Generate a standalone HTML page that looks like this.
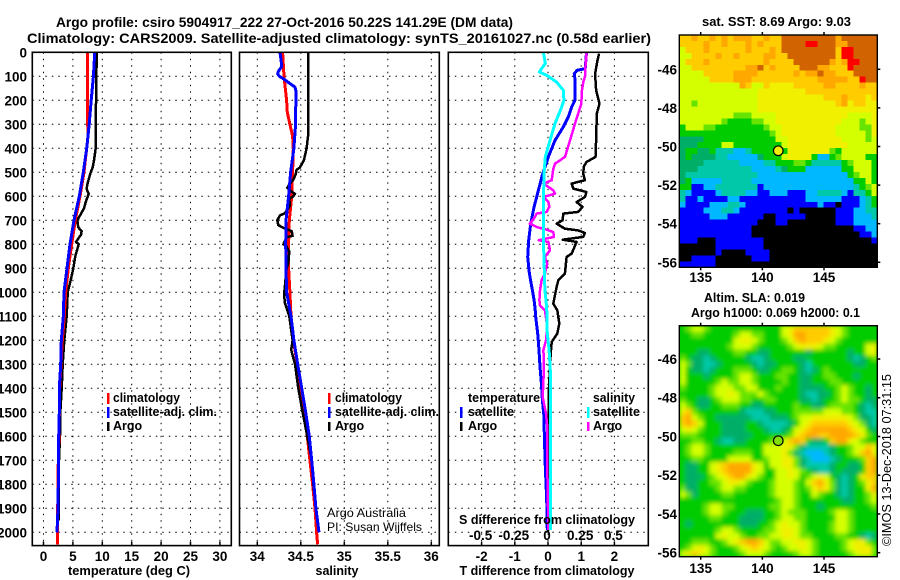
<!DOCTYPE html>
<html lang="en">
<head>
<meta charset="utf-8">
<title>Argo profile chart</title>
<style>
html,body{margin:0;padding:0;background:#fff;}
svg{display:block;}
text{font-family:"Liberation Sans",sans-serif;fill:#000;}
.b{font-weight:bold;}
.t{font-size:14px;font-weight:bold;}
.k{font-size:13.5px;font-weight:bold;}
.l{font-size:12.5px;font-weight:bold;}
</style>
</head>
<body>
<svg id="chart" xmlns="http://www.w3.org/2000/svg" width="900" height="580" viewBox="0 0 900 580">
<defs>
<clipPath id="clip-sla"><rect x="679.5" y="325.7" width="198" height="231"/></clipPath>
<filter id="smooth" x="-5%" y="-5%" width="110%" height="110%"><feGaussianBlur stdDeviation="2"/></filter>
</defs>
<rect x="0" y="0" width="900" height="580" fill="#fff"/>
<text class="t" x="56" y="27" textLength="457" lengthAdjust="spacingAndGlyphs">Argo profile: csiro 5904917_222 27-Oct-2016 50.22S 141.29E (DM data)</text>
<text class="t" x="27" y="43" textLength="624" lengthAdjust="spacingAndGlyphs">Climatology: CARS2009. Satellite-adjusted climatology: synTS_20161027.nc (0.58d earlier)</text>
<g id="layer-grid"></g>
<g id="layer-series"></g>
<g id="layer-frames"></g>
<g id="layer-ticks"></g>

<text class="b" x="129" y="575" font-size="13" text-anchor="middle" textLength="122" lengthAdjust="spacingAndGlyphs">temperature (deg C)</text>
<text class="b" x="337" y="575" font-size="13" text-anchor="middle" textLength="43" lengthAdjust="spacingAndGlyphs">salinity</text>
<text class="b" x="547" y="575" font-size="13" text-anchor="middle" textLength="175" lengthAdjust="spacingAndGlyphs">T difference from climatology</text>
<text class="b" x="547" y="524" font-size="13" text-anchor="middle" textLength="176" lengthAdjust="spacingAndGlyphs">S difference from climatology</text>

<g>
<rect x="107" y="393" width="2.5" height="11" fill="#f00"/>
<rect x="107" y="407" width="2.5" height="11" fill="#00f"/>
<rect x="107" y="422" width="2.5" height="9" fill="#000"/>
<text class="l" x="113" y="402" textLength="67" lengthAdjust="spacingAndGlyphs">climatology</text>
<text class="l" x="113" y="416" textLength="104" lengthAdjust="spacingAndGlyphs">satellite-adj. clim.</text>
<text class="l" x="113" y="430">Argo</text>
</g>
<g>
<rect x="328" y="393" width="2.5" height="11" fill="#f00"/>
<rect x="328" y="407" width="2.5" height="11" fill="#00f"/>
<rect x="328" y="422" width="2.5" height="9" fill="#000"/>
<text class="l" x="335" y="402" textLength="67" lengthAdjust="spacingAndGlyphs">climatology</text>
<text class="l" x="335" y="416" textLength="104" lengthAdjust="spacingAndGlyphs">satellite-adj. clim.</text>
<text class="l" x="335" y="430">Argo</text>
<text x="327" y="517" font-size="12" fill="#222" textLength="79" lengthAdjust="spacingAndGlyphs">Argo Australia</text>
<text x="327" y="531" font-size="12" fill="#222" textLength="95" lengthAdjust="spacingAndGlyphs">PI: Susan Wijffels</text>
</g>
<g>
<rect x="460" y="407" width="2.5" height="11" fill="#00f"/>
<rect x="460" y="422" width="2.5" height="9" fill="#000"/>
<rect x="587" y="407" width="2.5" height="11" fill="#0ff"/>
<rect x="587" y="422" width="2.5" height="9" fill="#f0f"/>
<text class="l" x="468" y="402" textLength="72" lengthAdjust="spacingAndGlyphs">temperature</text>
<text class="l" x="468" y="416" textLength="46" lengthAdjust="spacingAndGlyphs">satellite</text>
<text class="l" x="468" y="430">Argo</text>
<text class="l" x="593" y="402" textLength="42" lengthAdjust="spacingAndGlyphs">salinity</text>
<text class="l" x="593" y="416" textLength="47" lengthAdjust="spacingAndGlyphs">satellite</text>
<text class="l" x="593" y="430">Argo</text>
</g>

<g id="layer-sst" shape-rendering="crispEdges"></g>
<g clip-path="url(#clip-sla)">
<rect x="679.5" y="325.7" width="198" height="231" fill="#00cc00"/>
<g id="layer-sla" filter="url(#smooth)" shape-rendering="crispEdges"></g>
</g>
<g id="layer-map-axes"></g>

<text class="b" x="776.5" y="26" font-size="13" text-anchor="middle" textLength="149" lengthAdjust="spacingAndGlyphs">sat. SST: 8.69 Argo: 9.03</text>
<text class="b" x="754.5" y="302" font-size="13" text-anchor="middle" textLength="101" lengthAdjust="spacingAndGlyphs">Altim. SLA: 0.019</text>
<text class="b" x="775.5" y="317" font-size="13" text-anchor="middle" textLength="169" lengthAdjust="spacingAndGlyphs">Argo h1000: 0.069 h2000: 0.1</text>
<text x="891" y="546" font-size="12.5" textLength="172" lengthAdjust="spacingAndGlyphs" transform="rotate(-90 891 546)">©IMOS 13-Dec-2018 07:31:15</text>
</svg>

<script>
// ---------- axis tick values ----------
const depthTicks = [0,100,200,300,400,500,600,700,800,900,1000,1100,1200,1300,1400,1500,1600,1700,1800,1900,2000];
const tempTicks = [0,5,10,15,20,25,30];
const salinityTicks = [34,34.5,35,35.5,36];
const salinityTickLabels = ['34','34.5','35','35.5','36'];
const tDiffTicks = [-2,-1,0,1,2];
const sDiffTicks = [-0.5,-0.25,0,0.25,0.5];
const sDiffTickLabels = ['-0.5','-0.25','0','0.25','0.5'];
const lonTicks = [135,140,145];
const latTicks = [-46,-48,-50,-52,-54,-56];
const profileLon = [141.29];
const profileLat = [-50.22];

// ---------- temperature panel ----------
const climTempDepth = [0,100,300,350,400,500,600,700,800,900,1000,1100,1200,1300,1400,1500,1600,1700,1800,1900,2000,2050];
const climTemp = [7.51,7.45,7.51,7.57,7.34,6.89,6.21,5.41,4.79,4.22,3.77,3.54,3.2,2.98,2.75,2.69,2.64,2.52,2.47,2.41,2.35,2.35];
const satTempDepth = [0,50,100,200,300,400,500,600,700,800,900,1000,1100,1200,1300,1400,1500,1600,1700,1800,1900,2000];
const satTemp = [8.7,8.6,8.48,8.12,7.78,7.34,6.77,6.09,5.19,4.51,4.0,3.49,3.37,3.03,2.92,2.69,2.69,2.58,2.52,2.52,2.47,2.3];
const argoTempDepth = [0,100,300,400,450,480,500,550,570,590,620,650,680,700,730,745,760,790,800,850,900,950,1000,1100,1200,1300,1400,1500,1600,1700,1800,1900,1950];
const argoTemp = [9.04,8.99,8.87,8.87,8.59,8.36,8.02,7.45,7.34,7.68,7.23,6.89,6.21,5.75,5.92,6.49,6.38,5.53,5.98,5.41,5.07,4.62,4.11,3.94,3.54,3.26,3.09,2.86,2.81,2.64,2.58,2.58,2.58];

// ---------- salinity panel ----------
const climSalDepth = [0,100,150,200,250,300,350,400,500,600,700,800,900,1000,1100,1200,1300,1400,1500,1600,1700,1800,1900,2000,2050];
const climSal = [34.291,34.307,34.322,34.337,34.345,34.375,34.406,34.414,34.406,34.395,34.368,34.36,34.36,34.375,34.387,34.414,34.46,34.502,34.54,34.575,34.605,34.636,34.663,34.682,34.693];
const satSalDepth = [0,30,60,80,90,100,110,130,145,160,300,400,500,600,700,800,900,1000,1100,1200,1300,1400,1500,1600,1700,1800,1900,2000];
const satSal = [34.26,34.272,34.28,34.241,34.234,34.253,34.3,34.375,34.433,34.444,34.44,34.421,34.383,34.36,34.33,34.326,34.33,34.337,34.387,34.421,34.464,34.51,34.556,34.598,34.625,34.651,34.674,34.709];
const argoSalDepth = [0,340,400,450,480,490,510,530,550,565,575,590,600,610,640,670,680,700,720,735,745,765,770,800,810,830,880,900,1000,1040,1100,1200,1240,1300,1400,1500,1600,1700,1800,1850];
const argoSal = [34.586,34.586,34.567,34.536,34.49,34.452,34.44,34.414,34.368,34.345,34.375,34.433,34.414,34.368,34.375,34.318,34.26,34.23,34.241,34.318,34.395,34.406,34.337,34.3,34.337,34.368,34.356,34.337,34.31,34.314,34.368,34.406,34.39,34.433,34.471,34.521,34.575,34.625,34.644,34.66];

// ---------- difference panel ----------
const argoTDiffDepth = [6,33,89,158,214,256,367,436,457,475,506,533,547,568,582,603,624,644,665,672,700,714,735,742,753,769,781,790,839,853,922,950,978,1047,1075,1130,1172,1207,1255,1311,1422,1600,2000];
const argoTDiff = [1.54,1.49,1.42,1.45,1.55,1.47,1.45,1.43,1.16,1.08,1.06,1.11,0.71,0.76,1.16,1.11,0.86,1.04,0.91,0.46,0.44,0.26,0.51,0.91,1.11,1.06,0.44,0.86,0.71,0.56,0.51,0.31,0.26,0.16,0.28,0.34,0.28,0.11,0.08,0.06,0.02,0.02,0];
const satTDiffDepth = [0,68,75,89,110,200,228,269,311,367,436,506,575,644,714,783,853,922,992,1033,1068,1102,1172,1241,1311,1380,1450,1519,1589,1727,1866,1991];
const satTDiff = [1.16,1.12,0.88,0.79,0.81,0.81,0.71,0.61,0.46,0.21,0.01,-0.16,-0.29,-0.42,-0.52,-0.58,-0.61,-0.56,-0.47,-0.42,-0.39,-0.37,-0.31,-0.27,-0.24,-0.2,-0.17,-0.12,-0.11,-0.08,-0.04,-0.02];
const satSDiffDepth = [0,47,68,82,96,124,158,200,228,297,367,436,506,644,783,992,1033,1068,1172,1241,1352,1991];
const satSDiff = [-0.035,-0.02,-0.048,-0.065,-0.01,0.065,0.115,0.12,0.103,0.053,0.015,-0.02,-0.03,-0.035,-0.035,-0.023,-0.015,-0.01,-0.005,0.008,0.02,0.02];
const argoSDiffDepth = [0,68,96,124,158,214,297,367,436,464,485,506,533,547,575,589,603,624,644,665,672,686,714,728,739,749,769,783,790,825,853,881,922,950,992,1033,1054,1075,1144,1200,1241,1311,1436,1505,1561,1727,1991];
const argoSDiff = [0.291,0.281,0.281,0.266,0.256,0.251,0.203,0.166,0.128,0.053,0.04,0.035,0.028,-0.035,0.04,0.053,-0.035,0.003,0.01,-0.01,-0.085,-0.098,-0.136,-0.085,-0.01,0.04,0.045,-0.07,0.003,0.015,-0.023,-0.005,-0.023,-0.048,-0.06,-0.065,-0.06,-0.023,-0.005,-0.015,-0.035,-0.03,-0.04,-0.015,-0.005,-0.005,0.003];

// ---------- SST map: one row per line, north to south; each letter is a colour class ----------
const sstRows = [
"ooOooOoOoOOOooOooDDDDDDDDDODDDDDD",
"ooooOooOoooOoOoooDDDDRRDDDOODDDDD",
"yoooOooooooOoooOoDDDDDDDDDoRRDDDD",
"yyooooOooOooooOOooDDDDDDDDoRRDDDD",
"yoooOoooooooooOooooDDDDDDOoORRDDD",
"yyoooooooooOODoOooooDDDOOoooRDDDD",
"yyyyoooooOOOOooooooOoOODOOoooDDDD",
"yyyyyooooOOOoooooooooooOOOOOooRDD",
"yyyyyyyyyyOoyyoYYYYoooooOOooooOoo",
"yyyyyyyyyyyyyYYYYYYYYoooooooooooo",
"yyyyyyyyyyyyyYYYYYYYYYYYoooOoooYo",
"yygyyyyyyyyyyYYYYYYYYYYYYYoOYooYY",
"yyyyyyyyyyyyyYYYYYYYYYYYYYYYYYYYY",
"yyyyyyyyygggyyyyYYYYYYYYYYYYyyyyY",
"yyyyyyygGGGGggyyYYYYYYYYYYYyyygyY",
"GyyyggGGGGGGGGgyyYYYYYYYYYyyyyggY",
"GGGGGGGGGGGGGGGgyYYYYYYYYYyyyyygY",
"ttttGGGGGGGGGGGGyyYYYYYYYYYyyyygy",
"tttGGGGyyGGGGGGGGyYYYYYYYYYYyyyyy",
"tGGttGTTTLLTGGGGGGYYYYYYYgGyyyyyy",
"tGttttTTLLLLLtGGGyYYYYGLLGgyyyyGG",
"ttttTTTTTTLLLLTTGGGggGTTTTTGgyyyG",
"tttTTTTTTTTTLLLLTtGGGLLLLLLGGyyyG",
"tTTTTTTTTTTTTLLLLLLLLLLLLLLLGgyyG",
"tGLLLLLTTTTTLLLLLLLLLLLLLLLLLGGyG",
"GGBBLLTTTTTTTBLLLLLLLLLLLLLLLTGgy",
"TLBBBBLTTTTLLBBLLLBBBLLTTTTLBTTGy",
"TBBLBBBBLLBBBBBBBBBBBLLLLLLBBBLTG",
"LBBBBLLLTTLBBBBBBBBBBBBLBBKBBBLTG",
"BBBBLLLTTLBBBBBBBBKBKKKKKKBBBLLTT",
"BBBBBLLLBBBBBBKKBBBBBKKKKKBBBLLLT",
"BBBBBBBBBBBBBKKKBBKKKKKKKKBBBLLLL",
"BBBBBBBBBBBBKKKKKKKKKKKKKKKKKBBLL",
"BBBBBBBBBBBBKKKKKKKKKKKKKKKKKKBBL",
"BBBKKKBBBBBBBBKKKKKKKKKKKKKKKKKKB",
"KKKKKKBBBBBBBBKKKKKKKKKKKKKKKKKKK",
"KKKKKKBKKKKBBBBKKKKKKKKKKKKKKKKKK",
"KKBBBBKKKKKKBBBKKKKKKKKKKKKKKKKKK",
"BBBBBBKKKKKKKKKKKKKKKKKKKKKKKKKKK"
];

// ---------- SLA map: one row per line, north to south ----------
const slaRows = [
"GgyygGGGGGGGGGGGGyYooooooYygGGGGG",
"GGggGGGGGgyyggGGGyYOOooooYygGGGGG",
"GGGGGGGGGyYYygGGGgyoOoooYygGGGGGG",
"GGGGGGGGgyyygGGGGGgyYYYyggGGGGGyY",
"GGGttGGGGggGGttGGGGGGtGGGGGGtGGyY",
"gGttTtGGGGGtTTtGGGGttGGGGGGGtTtGg",
"ygttTTtGGGGGtTttGGGGtTGGGGGGGttGG",
"yGttTtGGGgggGttGGggGtTtGgGGGGGGGG",
"yGGGtGGGGgyygGGGggGGttGGggGGGtGGG",
"yGGGGGgyggyygGGGGgGGttGGGggGGGGGG",
"gGGGGgyyyggyyGGGgGGGttttGGgygGGtG",
"GGGGGgyyYygggygGGGGGtTTttGgygGGtG",
"gGGttGgyyyggGGggGGGGttTtGGgyggGtt",
"ygGttGGgggGGttGGGGGgGGttGggggGtTt",
"YogGGGGGGGtTTTttGGGgggggyyyggGtTT",
"oOygGGttttttTTTtttGgyyYYYYYYygttT",
"oOoyGGGttttGGtTTTTtGyYooooooYygtT",
"yYygGGGttttGGGtTTtGyYoOOOOOOoYyGt",
"gggGGGGtttttGGGGGGgYoOOooOOOOoYgG",
"GGggGGtTTttGGGGggyoOoGttGoOOYygGG",
"GgyygGGGGGGGGGyyyYYgtTTTTtGGgyyoY",
"GgyygGGGGgggGGyyyYgtTLLLTtGGgyoOY",
"GGggGGGGyyyyGGgyyYYgtTLLLTtGGGgoO",
"GttGGyYoOOOOYyGyyYYgtTTTTtGGttGoO",
"GttGGyYoOOOOYyGGyyYygGtTTtGtttGoO",
"GtttGgyYoOOYygGGyyYyGgyYyGtTtGYoo",
"GttGGggyYYygGGGgyyygGyoOYgtTtGgYo",
"gttGGGgyyggGGGGgyyygGgYoYgtTtGGYO",
"ygtGGGGggGGGGGGgyyygGGygGGtTtGGgY",
"GGGGGGGGGGGGGGGGgyygGGGGGGGttGGgy",
"GGGGgyyggGGGGGGggyygGGGtGGGGGGGGg",
"GGGGgyygGGGtttGGgygggGGGGgyygGGGG",
"GGGGGggGGGttttGGgyyggGGGGGyygGGGG",
"GtGGGGGGGGtttGGgyYyygGGGGgyygGGGG",
"GGGGGGgyygGGGGggyYYygGGGGgyygGGGG",
"GGGGGGyYyygGGggyyYYyggGGGGggGGtTt",
"GGgggGGgyYoOOoyggyyYYygGGGGgyYYgG",
"GgyYygGGGgyYoYygGgyyYygGGGGgyYYYg",
"yYoYygGGGGgyyygGGGGgyygGGGGGgyYYg"
];

const classColors = {K:'#000000',B:'#0000ff',L:'#00b8ff',T:'#00c8a8',t:'#00ae68',G:'#00cc00',g:'#66e400',y:'#d4ff00',Y:'#f0f000',o:'#ffcc00',O:'#ffa800',D:'#d26400',R:'#ff0000'};

// ---------- scales ----------
const NS = 'http://www.w3.org/2000/svg';
const PANEL_TOP = 52.3, PANEL_BOTTOM = 545.6;
function yDepth(d){ return 52.3 + 0.24 * d; }
function xTemp(t){ return 43.5 + 5.88 * t; }
function xSal(s){ return 257.3 + 87 * (s - 34); }
function xTDiff(t){ return 548 + 33.2 * t; }
function xSDiff(s){ return 548 + 132.8 * s; }
function xLon(l){ return 700.7 + 12.33 * (l - 135); }
function ySstLat(l){ return 69.3 + 19.3 * (-46 - l); }
function ySlaLat(l){ return 359 + 19.37 * (-46 - l); }

const gridLayer = document.getElementById('layer-grid');
const seriesLayer = document.getElementById('layer-series');
const frameLayer = document.getElementById('layer-frames');
const tickLayer = document.getElementById('layer-ticks');
const axesLayer = document.getElementById('layer-map-axes');

function drawLine(parent, name, x1, y1, x2, y2, dash){
  const el = document.createElementNS(NS, 'line');
  
  
  el.setAttribute('x1', x1);
  el.setAttribute('y1', y1);
  el.setAttribute('x2', x2);
  el.setAttribute('y2', y2);
  el.setAttribute('stroke', '#000');
  el.setAttribute('stroke-width', dash ? 1 : 1.5);
  if (dash) el.setAttribute('stroke-dasharray', dash);
  parent.appendChild(el);
}
function drawLabel(parent, name, x, y, str, anchor){
  const el = document.createElementNS(NS, 'text');
  
  
  el.setAttribute('class', 'k');
  el.setAttribute('x', x);
  el.setAttribute('y', y);
  el.setAttribute('text-anchor', anchor);
  el.textContent = str;
  parent.appendChild(el);
}
function drawFrame(name, x, y, w, h){
  const el = document.createElementNS(NS, 'rect');
  
  
  el.setAttribute('x', x);
  el.setAttribute('y', y);
  el.setAttribute('width', w);
  el.setAttribute('height', h);
  el.setAttribute('fill', 'none');
  el.setAttribute('stroke', '#000');
  el.setAttribute('stroke-width', 1.6);
  frameLayer.appendChild(el);
}
function drawSeries(name, colour, width, values, depths, xFn){
  const el = document.createElementNS(NS, 'polyline');
  
  
  el.setAttribute('fill', 'none');
  el.setAttribute('stroke', colour);
  el.setAttribute('stroke-width', width);
  el.setAttribute('stroke-linejoin', 'round');
  el.setAttribute('shape-rendering', 'crispEdges');
  const pts = [];
  for (let i = 0; i < values.length; i++) {
    pts.push(xFn(values[i]).toFixed(1) + ',' + yDepth(depths[i]).toFixed(1));
  }
  el.setAttribute('points', pts.join(' '));
  seriesLayer.appendChild(el);
}
function panelGrid(prefix, x0, x1, xs){
  depthTicks.forEach(function(d){
    if (d === 0) return;
    drawLine(gridLayer, prefix + '-depth-gridline', x0, yDepth(d), x1, yDepth(d), '1.5 5');
  });
  xs.forEach(function(x){
    drawLine(gridLayer, prefix + '-vertical-gridline', x, PANEL_TOP, x, PANEL_BOTTOM, '1.5 5');
    drawLine(gridLayer, prefix + '-x-tick', x, PANEL_BOTTOM - 4, x, PANEL_BOTTOM);
  });
}

panelGrid('temperature', 32.3, 231.3, tempTicks.map(xTemp));
panelGrid('salinity', 239.5, 439.3, salinityTicks.map(xSal));
panelGrid('difference', 448.3, 648.3, tDiffTicks.map(xTDiff));

drawSeries('argo-temperature-line', '#000', 2.5, argoTemp, argoTempDepth, xTemp);
drawSeries('climatology-temperature-line', '#f00', 3, climTemp, climTempDepth, xTemp);
drawSeries('satellite-temperature-line', '#00f', 3, satTemp, satTempDepth, xTemp);
drawSeries('climatology-salinity-line', '#f00', 3, climSal, climSalDepth, xSal);
drawSeries('argo-salinity-line', '#000', 2.5, argoSal, argoSalDepth, xSal);
drawSeries('satellite-salinity-line', '#00f', 3, satSal, satSalDepth, xSal);
drawSeries('argo-t-difference-line', '#000', 2.5, argoTDiff, argoTDiffDepth, xTDiff);
drawSeries('satellite-t-difference-line', '#00f', 3, satTDiff, satTDiffDepth, xTDiff);
drawSeries('argo-s-difference-line', '#f0f', 2.5, argoSDiff, argoSDiffDepth, xSDiff);
drawSeries('satellite-s-difference-line', '#0ff', 3, satSDiff, satSDiffDepth, xSDiff);

drawFrame('temperature-panel-frame', 32.3, PANEL_TOP, 199, PANEL_BOTTOM - PANEL_TOP);
drawFrame('salinity-panel-frame', 239.5, PANEL_TOP, 199.8, PANEL_BOTTOM - PANEL_TOP);
drawFrame('difference-panel-frame', 448.3, PANEL_TOP, 200, PANEL_BOTTOM - PANEL_TOP);

depthTicks.forEach(function(d){
  drawLabel(tickLayer, 'depth-tick-label', 27, yDepth(d) + 5, String(d), 'end');
});
tempTicks.forEach(function(t){
  drawLabel(tickLayer, 'temperature-tick-label', xTemp(t), 561, String(t), 'middle');
});
salinityTicks.forEach(function(s, i){
  drawLabel(tickLayer, 'salinity-tick-label', xSal(s), 561, salinityTickLabels[i], 'middle');
});
tDiffTicks.forEach(function(t){
  drawLabel(tickLayer, 't-difference-tick-label', xTDiff(t), 561, String(t), 'middle');
});
sDiffTicks.forEach(function(s, i){
  drawLabel(tickLayer, 's-difference-tick-label', xSDiff(s) - 1, 540, sDiffTickLabels[i], 'middle');
});

// ---------- maps ----------
function drawCells(parent, rows, x0, y0, w, h, name){
  const cw = w / 33, ch = h / rows.length;
  rows.forEach(function(row, r){
    for (let c = 0; c < row.length; c++) {
      const el = document.createElementNS(NS, 'rect');
      
      
      el.setAttribute('x', (x0 + c * cw).toFixed(2));
      el.setAttribute('y', (y0 + r * ch).toFixed(2));
      el.setAttribute('width', (cw + 0.4).toFixed(2));
      el.setAttribute('height', (ch + 0.4).toFixed(2));
      el.setAttribute('fill', classColors[row[c]]);
      parent.appendChild(el);
    }
  });
}
drawCells(document.getElementById('layer-sst'), sstRows, 679.3, 35, 198, 232.3, 'sst-cell');
drawCells(document.getElementById('layer-sla'), slaRows, 679.3, 325.7, 198, 231, 'sla-cell');

function mapFrame(name, yTop, yBottom, yLat, prefix, labelY, markerFill){
  const el = document.createElementNS(NS, 'rect');
  
  
  el.setAttribute('x', 679.3);
  el.setAttribute('y', yTop);
  el.setAttribute('width', 198);
  el.setAttribute('height', yBottom - yTop);
  el.setAttribute('fill', 'none');
  el.setAttribute('stroke', '#000');
  el.setAttribute('stroke-width', 1.4);
  axesLayer.appendChild(el);
  lonTicks.forEach(function(l){
    drawLine(axesLayer, prefix + '-lon-tick-top', xLon(l), yTop - 3, xLon(l), yTop);
    drawLine(axesLayer, prefix + '-lon-tick-bottom', xLon(l), yBottom, xLon(l), yBottom + 3);
    drawLabel(axesLayer, prefix + '-lon-tick-label', xLon(l), labelY, String(l), 'middle');
  });
  latTicks.forEach(function(l){
    drawLine(axesLayer, prefix + '-lat-tick-right', 877.3, yLat(l), 880.3, yLat(l));
    drawLabel(axesLayer, prefix + '-lat-tick-label', 677, yLat(l) + 5, String(l), 'end');
  });
  const m = document.createElementNS(NS, 'circle');
  
  
  m.setAttribute('cx', xLon(profileLon[0]));
  m.setAttribute('cy', yLat(profileLat[0]));
  m.setAttribute('r', 4.8);
  m.setAttribute('fill', markerFill);
  m.setAttribute('stroke', '#000');
  m.setAttribute('stroke-width', 1.2);
  axesLayer.appendChild(m);
}
mapFrame('sst-map-frame', 35, 267.3, ySstLat, 'sst', 282, '#f0f000');
mapFrame('sla-map-frame', 325.7, 556.7, ySlaLat, 'sla', 573, '#80e000');
</script>
</body>
</html>
